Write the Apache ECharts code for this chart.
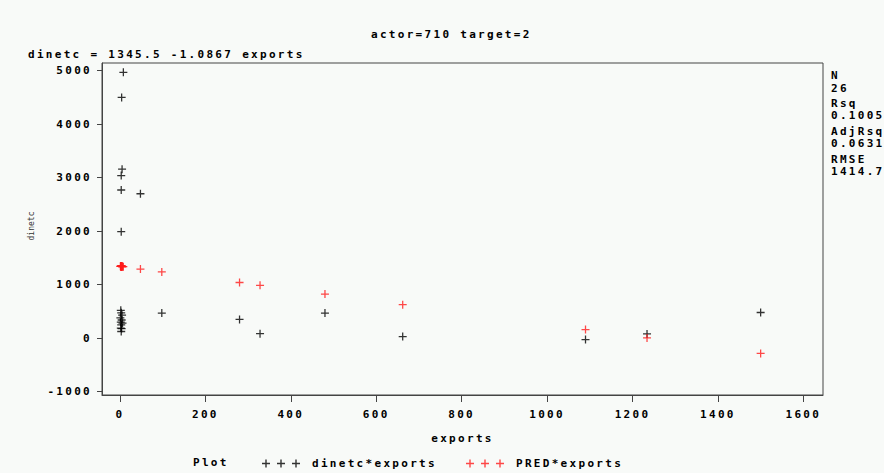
<!DOCTYPE html>
<html>
<head>
<meta charset="utf-8">
<title>actor=710 target=2</title>
<script src="https://cdn.jsdelivr.net/npm/echarts@6/dist/echarts.min.js"></script>
<style>
  html, body { margin: 0; padding: 0; background: #f8faf8; }
  #chart { width: 884px; height: 473px; }
  /* the SAS bitmap font is wide, so space out the bold labels */
  #chart text[style*="bold"] { letter-spacing: 2.3px; }
</style>
</head>
<body>
<div id="chart"></div>
<script>
// exports (x) and observed dinetc (y), one entry per observation
const exportsVals = [8, 4, 5, 3, 3, 3, 2, 3, 5, 1, 4, 2, 6, 3, 2, 4, 3, 48, 98, 280, 328, 480, 662, 1090, 1234, 1500]
const dinetcVals = [4970, 4500, 3160, 3040, 2770, 1990, 520, 475, 430, 380, 340, 300, 280, 250, 190, 180, 125, 2700, 470, 350, 85, 470, 30, -25, 80, 480]
// predicted values as plotted (red crosses)
const predVals = [1337, 1341, 1340, 1342, 1342, 1342, 1343, 1342, 1340, 1344, 1341, 1343, 1339, 1342, 1343, 1341, 1342, 1293, 1239, 1041, 989, 824, 626, 161, 5, -285]

const xTicks = [0, 200, 400, 600, 800, 1000, 1200, 1400, 1600]
const yTicks = [-1000, 0, 1000, 2000, 3000, 4000, 5000]

const statLabels = ['N', '26', 'Rsq', '0.1005', 'AdjRsq', '0.0631', 'RMSE', '1414.7']
const statY = [75, 88, 103, 115, 131, 143, 159, 171]

const mono = 'DejaVu Sans Mono'
const frameColor = '#444'
const black = '#000'
const red = '#ff1a1a'
const plus = 'path://M4.2,0H5.8V4.2H10V5.8H5.8V10H4.2V5.8H0V4.2H4.2Z'
const plus3 = 'path://M3.3,0H4.7V3.3H8V4.7H4.7V8H3.3V4.7H0V3.3H3.3Z' +
  'M18.3,0H19.7V3.3H23V4.7H19.7V8H18.3V4.7H15V3.3H18.3Z' +
  'M33.3,0H34.7V3.3H38V4.7H34.7V8H33.3V4.7H30V3.3H33.3Z'

function pairs (xs, ys) {
  return xs.map((x, i) => [x, ys[i]])
}

function plain (v) {
  return String(v)
}

let chart = echarts.init(document.getElementById('chart'), null, { renderer: 'svg' })

let labelFont = { fontFamily: mono, fontWeight: 'bold', fontSize: 11, color: '#000' }

function legendAt (left, name, color) {
  return {
    left: left,
    top: 458,
    padding: 0,
    itemWidth: 38,
    itemHeight: 8,
    textStyle: Object.assign({ padding: [0, 0, 0, 7] }, labelFont),
    data: [{ name: name, icon: plus3, itemStyle: { color: color } }]
  }
}

chart.setOption({
  backgroundColor: '#f8faf8',
  animation: false,
  title: [
    { text: 'actor=710 target=2', left: 371, top: 29, padding: 0, textStyle: labelFont },
    { text: 'dinetc = 1345.5 -1.0867 exports', left: 28, top: 49, padding: 0, textStyle: labelFont }
  ],
  grid: {
    left: 102,
    right: 61,
    top: 63,
    bottom: 78,
    show: true,
    borderColor: frameColor,
    borderWidth: 1,
    backgroundColor: 'transparent'
  },
  legend: [
    legendAt(262, 'dinetc*exports', black),
    legendAt(466, 'PRED*exports', red)
  ],
  graphic: [
    { type: 'text', left: 193, top: 457, style: { text: 'Plot', font: 'bold 11px ' + mono, fill: '#000' } },
    {
      type: 'text', x: 31, y: 226, rotation: Math.PI / 2,
      style: { text: 'dinetc', font: '8px ' + mono, fill: '#333', align: 'center', verticalAlign: 'middle' }
    }
  ].concat(statLabels.map((t, i) => ({
    type: 'text', x: 831, y: statY[i],
    style: { text: t, font: 'bold 11px ' + mono, fill: '#000', verticalAlign: 'middle' }
  }))),
  xAxis: {
    type: 'value',
    min: -42,
    max: 1646,
    name: 'exports',
    nameLocation: 'middle',
    nameGap: 38,
    nameTextStyle: labelFont,
    splitLine: { show: false },
    axisLine: { show: true, onZero: false, lineStyle: { color: frameColor } },
    axisTick: { show: true, length: 7, customValues: xTicks, lineStyle: { color: frameColor } },
    axisLabel: Object.assign({ margin: 14, customValues: xTicks, formatter: plain }, labelFont)
  },
  yAxis: {
    type: 'value',
    min: -1062,
    max: 5144,
    splitLine: { show: false },
    axisLine: { show: true, onZero: false, lineStyle: { color: frameColor } },
    axisTick: { show: true, length: 5, customValues: yTicks, lineStyle: { color: frameColor } },
    axisLabel: Object.assign({ margin: 10, customValues: yTicks, formatter: plain }, labelFont)
  },
  series: [
    {
      name: 'dinetc*exports',
      type: 'scatter',
      symbol: plus,
      symbolSize: 8,
      itemStyle: { color: black },
      data: pairs(exportsVals, dinetcVals)
    },
    {
      name: 'PRED*exports',
      type: 'scatter',
      symbol: plus,
      symbolSize: 8,
      itemStyle: { color: red },
      data: pairs(exportsVals, predVals)
    }
  ]
})
</script>
</body>
</html>
